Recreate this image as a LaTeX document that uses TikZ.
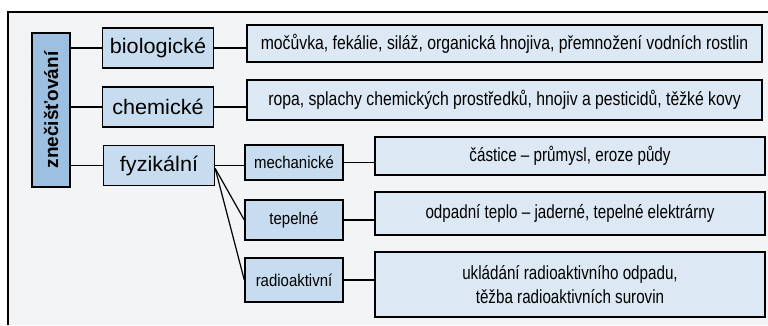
\documentclass[tikz,border=0pt]{standalone}
\usepackage{fontspec}
\setmainfont{Liberation Sans}
\newfontfamily\condfont[FakeStretch=0.83]{Liberation Sans}
\newfontfamily\condfontb[FakeStretch=0.80]{Liberation Sans}
\newfontfamily\subfont[FakeStretch=0.88]{Liberation Sans}
\newfontfamily\catfont[FakeStretch=1.03]{Liberation Sans}
\definecolor{paper}{HTML}{F3F4F6}
\definecolor{mainblue}{HTML}{9DBFE0}
\definecolor{catblue}{HTML}{C8DCEF}
\definecolor{txtblue}{HTML}{DCE8F3}
\tikzset{
  box/.style={draw=black, line width=1.4pt, inner sep=0pt, align=center},
  mainbox/.style={box, fill=mainblue, minimum width=38pt, minimum height=154pt},
  catbox/.style={box, fill=catblue, minimum width=111pt, minimum height=40pt, font=\catfont\fontsize{21}{24}\selectfont},
  subbox/.style={box, fill=catblue, minimum width=98pt, font=\subfont\fontsize{17}{20}\selectfont},
  txtbox/.style={box, fill=txtblue, font=\condfont\fontsize{19}{23}\selectfont},
  txtboxb/.style={box, fill=txtblue, font=\condfontb\fontsize{19}{24}\selectfont},
  conn/.style={line width=1.2pt}
}
\begin{document}
\begin{tikzpicture}[x=1pt,y=-1pt]
\useasboundingbox (0,0) rectangle (768,325);
\fill[white] (0,0) rectangle (768,325);
\fill[paper] (8,12) rectangle (768,325);
\draw[line width=1.3pt] (8,325) -- (8,12) -- (768,12);

\node[mainbox] (main) at (51,110) {};
\node[rotate=90, font=\bfseries\fontsize{19}{22}\selectfont] (maintxt) at (main.center) {znečišťování};

\node[catbox] (bio) at (158,48) {biologické};
\node[catbox] (chem) at (158,107) {chemické};
\node[catbox] (fyz) at (159,165.5) {fyzikální};

\node[txtbox, minimum width=515pt, minimum height=37pt] (t1) at (504.5,43.5) {močůvka, fekálie, siláž, organická hnojiva, přemnožení vodních rostlin};
\node[txtbox, minimum width=515pt, minimum height=40pt] (t2) at (504.5,100) {ropa, splachy chemických prostředků, hnojiv a pesticidů, těžké kovy};

\node[subbox, minimum height=35pt] (mech) at (294,162.5) {mechanické};
\node[subbox, minimum height=40pt] (tep) at (294,220) {tepelné};
\node[subbox, minimum height=44pt] (rad) at (294,280) {radioaktivní};

\node[txtboxb, minimum width=390pt, minimum height=38pt] (t3) at (570,156) {částice – průmysl, eroze půdy};
\node[txtboxb, minimum width=390pt, minimum height=43pt] (t4) at (570,213.5) {odpadní teplo – jaderné, tepelné elektrárny};
\node[txtboxb, minimum width=390pt, minimum height=65pt] (t5) at (570,284.5) {ukládání radioaktivního odpadu,\\těžba radioaktivních surovin};

\draw[conn] (bio.west) -- (bio.west -| main.east);
\draw[conn] (chem.west) -- (chem.west -| main.east);
\draw[conn] (fyz.west) -- (fyz.west -| main.east);
\draw[conn] (bio.east) -- (bio.east -| t1.west);
\draw[conn] (chem.east) -- (chem.east -| t2.west);
\draw[conn] (fyz.east) -- (fyz.east -| mech.west);
\coordinate (fork) at ([yshift=-3pt]fyz.east);
\draw[conn] (fork) -- (tep.west);
\draw[conn] (fork) -- (rad.west);
\draw[conn] (mech.east) -- (mech.east -| t3.west);
\draw[conn] (tep.east) -- (tep.east -| t4.west);
\draw[conn] (rad.east) -- (rad.east -| t5.west);
\end{tikzpicture}
\end{document}
